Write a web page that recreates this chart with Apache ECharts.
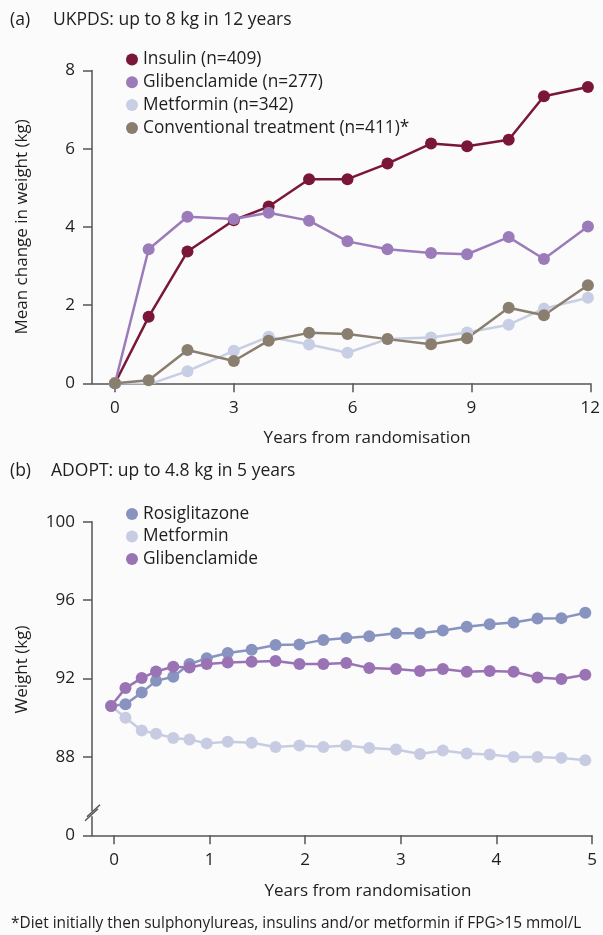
<!DOCTYPE html>
<html>
<head>
<meta charset="utf-8">
<script src="https://cdn.jsdelivr.net/npm/echarts@6/dist/echarts.min.js"></script>
<style>
html,body{margin:0;padding:0;background:#fbfbfb;}
#c{width:603px;height:935px;}
</style>
</head>
<body>
<div id="c"></div>
<script>
// ---- Panel (a) UKPDS ----
const ukYears = [0, 0.85, 1.83, 3.0, 3.88, 4.9, 5.87, 6.88, 7.98, 8.89, 9.94, 10.83, 11.94];
const ukInsulin = [0, 1.70, 3.37, 4.17, 4.52, 5.22, 5.22, 5.62, 6.13, 6.06, 6.23, 7.34, 7.58];
const ukGlib = [0, 3.43, 4.26, 4.20, 4.36, 4.16, 3.63, 3.43, 3.33, 3.30, 3.74, 3.18, 4.01];
const ukMetformin = [0, -0.03, 0.31, 0.83, 1.19, 0.99, 0.78, 1.13, 1.17, 1.30, 1.50, 1.91, 2.19];
const ukConventional = [0, 0.08, 0.85, 0.57, 1.09, 1.29, 1.26, 1.13, 1.00, 1.15, 1.93, 1.74, 2.51];
const ukXTicks = [0, 3, 6, 9, 12];
const ukNames = ['Insulin (n=409)', 'Glibenclamide (n=277)', 'Metformin (n=342)', 'Conventional treatment (n=411)*'];

// ---- Panel (b) ADOPT ----
const adYears = [-0.03, 0.12, 0.29, 0.44, 0.62, 0.79, 0.97, 1.19, 1.44, 1.69, 1.94, 2.19, 2.43, 2.67, 2.95, 3.20, 3.44, 3.69, 3.93, 4.18, 4.43, 4.68, 4.93];
const adRosi = [90.6, 90.69, 91.28, 91.88, 92.09, 92.74, 93.03, 93.30, 93.47, 93.71, 93.74, 93.97, 94.07, 94.15, 94.31, 94.31, 94.45, 94.64, 94.77, 94.86, 95.06, 95.08, 95.35];
const adMetformin = [90.6, 90.0, 89.35, 89.18, 88.97, 88.89, 88.69, 88.77, 88.72, 88.50, 88.58, 88.50, 88.58, 88.46, 88.38, 88.15, 88.33, 88.17, 88.12, 87.99, 87.99, 87.95, 87.83];
const adGlib = [90.6, 91.51, 92.02, 92.36, 92.60, 92.56, 92.74, 92.82, 92.86, 92.89, 92.74, 92.74, 92.79, 92.53, 92.48, 92.38, 92.48, 92.34, 92.38, 92.34, 92.05, 91.97, 92.19];
const adXTicks = [0, 1, 2, 3, 4, 5];
const adNames = ['Rosiglitazone', 'Metformin', 'Glibenclamide'];

const FONT = 'Open Sans';
const FS = 17;
const TXT = '#1e1e1e';
const AX = '#555555';
const BG = '#fbfbfb';

function pairs(xs, ys) { return xs.map((x, i) => [x, ys[i]]); }

function mkSeries(name, xs, ys, color, idx) {
  return {
    name: name, type: 'line', xAxisIndex: idx, yAxisIndex: idx,
    data: pairs(xs, ys),
    symbol: 'circle', symbolSize: 12,
    lineStyle: { color: color, width: 2.5 },
    itemStyle: { color: color },
    emphasis: { disabled: true },
    animation: false
  };
}

const axisCommon = {
  axisLine: { show: true, onZero: false, lineStyle: { color: AX, width: 1.5 } },
  axisTick: { show: true, inside: false, length: 9, lineStyle: { color: AX, width: 1.5 } },
  splitLine: { show: false },
  axisLabel: { color: TXT, fontSize: FS, fontFamily: FONT },
  nameTextStyle: { color: TXT, fontSize: FS, fontFamily: FONT }
};

const chart = echarts.init(document.getElementById('c'), null, { renderer: 'canvas' });

const option = {
  backgroundColor: BG,
  animation: false,
  textStyle: { fontFamily: FONT },
  grid: [
    { left: 92, top: 70.5, width: 500, height: 312.8 },
    { left: 92, top: 521.7, width: 500, height: 313.6 }
  ],
  xAxis: [
    Object.assign({}, axisCommon, {
      gridIndex: 0, type: 'value', min: -0.58, max: 12,
      axisLabel: Object.assign({}, axisCommon.axisLabel, { customValues: ukXTicks, margin: 16 }),
      axisTick: Object.assign({}, axisCommon.axisTick, { customValues: ukXTicks }),
      name: 'Years from randomisation', nameLocation: 'middle', nameGap: 46,
      nameTextStyle: Object.assign({}, axisCommon.nameTextStyle, { padding: [0, 0, 0, 52] })
    }),
    Object.assign({}, axisCommon, {
      gridIndex: 1, type: 'value', min: -0.23, max: 5,
      axisLabel: Object.assign({}, axisCommon.axisLabel, { customValues: adXTicks, margin: 16 }),
      axisTick: Object.assign({}, axisCommon.axisTick, { customValues: adXTicks }),
      name: 'Years from randomisation', nameLocation: 'middle', nameGap: 47,
      nameTextStyle: Object.assign({}, axisCommon.nameTextStyle, { padding: [0, 0, 0, 52] })
    })
  ],
  yAxis: [
    Object.assign({}, axisCommon, {
      gridIndex: 0, type: 'value', min: 0, max: 8, interval: 2,
      axisLabel: Object.assign({}, axisCommon.axisLabel, { margin: 17 }),
      name: 'Mean change in weight (kg)', nameLocation: 'middle', nameGap: 61
    }),
    Object.assign({}, axisCommon, {
      gridIndex: 1, type: 'value', min: 84, max: 100, interval: 4,
      axisLabel: Object.assign({}, axisCommon.axisLabel, { margin: 17, formatter: v => (v === 84 ? '0' : String(v)) }),
      name: 'Weight (kg)', nameLocation: 'middle', nameGap: 61,
      nameTextStyle: Object.assign({}, axisCommon.nameTextStyle, { padding: [0, 0, 0, 18] })
    })
  ],
  legend: [
    {
      data: ukNames, orient: 'vertical', left: 121, top: 46, itemGap: 5.8,
      icon: 'circle', itemWidth: 12, itemHeight: 12, selectedMode: false,
      textStyle: { color: TXT, fontSize: 17.3, fontFamily: FONT, lineHeight: 17 }
    },
    {
      data: adNames, orient: 'vertical', left: 121, top: 500.5, itemGap: 5.5,
      icon: 'circle', itemWidth: 12, itemHeight: 12, selectedMode: false,
      textStyle: { color: TXT, fontSize: 17.3, fontFamily: FONT, lineHeight: 17 }
    }
  ],
  series: [
    mkSeries(ukNames[0], ukYears, ukInsulin, '#7a1737', 0),
    mkSeries(ukNames[1], ukYears, ukGlib, '#9c7bbb', 0),
    mkSeries(ukNames[2], ukYears, ukMetformin, '#c8cee3', 0),
    mkSeries(ukNames[3], ukYears, ukConventional, '#8a7e6f', 0),
    mkSeries(adNames[0], adYears, adRosi, '#8893c0', 1),
    mkSeries(adNames[1], adYears, adMetformin, '#c7cce2', 1),
    mkSeries(adNames[2], adYears, adGlib, '#9a73b5', 1)
  ]
};
chart.setOption(option);

// Titles, footnote and y-axis break marks
const brk = chart.convertToPixel({ gridIndex: 1 }, [-0.23, 85.1]);
const bx = brk[0], by = brk[1];
chart.setOption({
  graphic: [
    { type: 'text', left: 10, top: 11, style: { text: '(a)', fill: TXT, font: '17.5px "Open Sans"' } },
    { type: 'text', left: 53, top: 11, style: { text: 'UKPDS: up to 8 kg in 12 years', fill: TXT, font: '17.5px "Open Sans"' } },
    { type: 'text', left: 10, top: 462, style: { text: '(b)', fill: TXT, font: '17.5px "Open Sans"' } },
    { type: 'text', left: 51, top: 462, style: { text: 'ADOPT: up to 4.8 kg in 5 years', fill: TXT, font: '17.5px "Open Sans"' } },
    { type: 'text', left: 11, top: 916, style: { text: '*Diet initially then sulphonylureas, insulins and/or metformin if FPG>15 mmol/L', fill: TXT, font: '15.4px "Open Sans"' } },
    { type: 'rect', shape: { x: bx - 3, y: by - 2.5, width: 6, height: 5 }, style: { fill: BG }, z: 100 },
    { type: 'line', shape: { x1: bx - 7, y1: by + 7, x2: bx + 6, y2: by - 5 }, style: { stroke: AX, lineWidth: 1.5 }, z: 101 },
    { type: 'line', shape: { x1: bx - 5, y1: by + 3, x2: bx + 8, y2: by - 9 }, style: { stroke: AX, lineWidth: 1.5 }, z: 101 }
  ]
});
</script>
</body>
</html>
